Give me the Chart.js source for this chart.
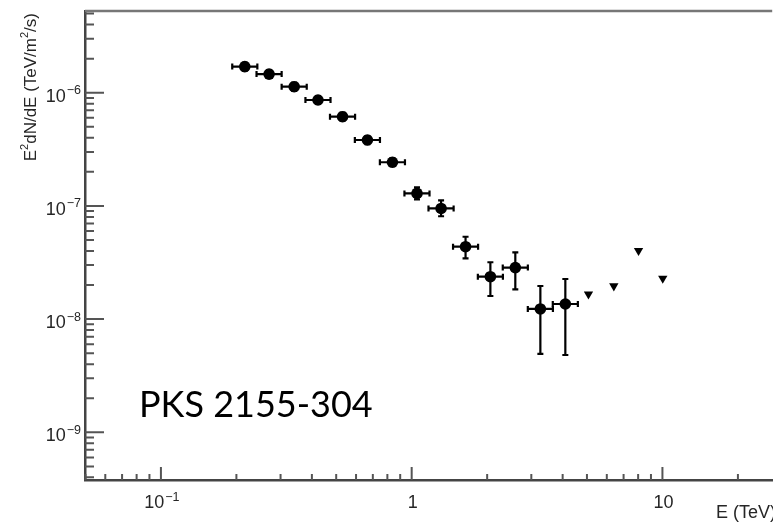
<!DOCTYPE html>
<html>
<head>
<meta charset="utf-8">
<script src="https://cdn.jsdelivr.net/npm/chart.js@4.4.0/dist/chart.umd.min.js"></script>
<style>
  html, body { margin: 0; padding: 0; background: #fff; overflow: hidden; }
  /* a little wider than the window: the x axis runs off the right edge, as in the figure */
  #wrap { width: 778px; height: 522px; }
</style>
</head>
<body>
<div id="wrap"><canvas id="sedChart"></canvas></div>
<script>
// Spectral points (E in TeV, E^2 dN/dE in TeV/m^2/s)
const energy   = [0.216, 0.270, 0.340, 0.423, 0.530, 0.666, 0.838, 1.05, 1.31, 1.64, 2.06, 2.59, 3.26, 4.10];
const flux     = [1.70e-6, 1.46e-6, 1.13e-6, 8.62e-7, 6.14e-7, 3.82e-7, 2.43e-7, 1.29e-7, 9.5e-8, 4.36e-8, 2.37e-8, 2.85e-8, 1.23e-8, 1.36e-8];
// bin edges
const energyLow  = [0.1925, 0.2406, 0.3030, 0.3770, 0.4723, 0.5935, 0.7468, 0.9357, 1.167, 1.462, 1.836, 2.308, 2.905, 3.654];
const energyHigh = [0.2424, 0.3030, 0.3815, 0.4746, 0.5947, 0.7473, 0.9402, 1.178, 1.470, 1.840, 2.311, 2.906, 3.658, 4.600];
// flux error range
const fluxLow  = [1.57e-6, 1.35e-6, 1.04e-6, 7.95e-7, 5.66e-7, 3.52e-7, 2.24e-7, 1.14e-7, 8.1e-8, 3.44e-8, 1.60e-8, 1.83e-8, 4.92e-9, 4.82e-9];
const fluxHigh = [1.84e-6, 1.58e-6, 1.23e-6, 9.35e-7, 6.66e-7, 4.14e-7, 2.64e-7, 1.46e-7, 1.12e-7, 5.34e-8, 3.18e-8, 3.89e-8, 1.96e-8, 2.26e-8];

// upper limits
const ulEnergy = [5.07, 6.40, 8.03, 10.03];
const ulFlux   = [1.66e-8, 1.96e-8, 4.02e-8, 2.29e-8];

// axis ticks
const xMajor = [0.1, 1, 10];
const xMajorBase = ['10', '1', '10'];
const xMajorExp  = ['\u22121', '', ''];
const yMajor = [1e-9, 1e-8, 1e-7, 1e-6];
const yMajorExp = ['\u22129', '\u22128', '\u22127', '\u22126'];
const minorSteps = [2, 3, 4, 5, 6, 7, 8, 9];

const FONT = '"Liberation Sans", Arial, Helvetica, sans-serif';
const TXT = '#262626';

function drawPow(ctx, base, exp, x, y, align) {
    ctx.font = '18px ' + FONT;
    const wb = ctx.measureText(base).width;
    ctx.font = '12.5px ' + FONT;
    const we = exp ? ctx.measureText(exp).width + 1 : 0;
    const total = wb + we;
    let left = x;
    if (align === 'right') left = x - total;
    if (align === 'center') left = x - total / 2;
    ctx.textAlign = 'left';
    ctx.textBaseline = 'alphabetic';
    ctx.font = '18px ' + FONT;
    ctx.fillText(base, left, y);
    if (exp) {
        ctx.font = '12.5px ' + FONT;
        ctx.fillText(exp, left + wb + 1, y - 7.5);
    }
}

// error bars under the markers
const errorBars = {
    id: 'errorBars',
    beforeDatasetsDraw(chart) {
        const ctx = chart.ctx;
        const x = chart.scales.x, y = chart.scales.y;
        ctx.save();
        ctx.strokeStyle = '#000';
        ctx.lineWidth = 2.2;
        for (let i = 0; i < energy.length; i++) {
            const px = x.getPixelForValue(energy[i]);
            const py = y.getPixelForValue(flux[i]);
            const x0 = x.getPixelForValue(energyLow[i]);
            const x1 = x.getPixelForValue(energyHigh[i]);
            const y0 = y.getPixelForValue(fluxLow[i]);
            const y1 = y.getPixelForValue(fluxHigh[i]);
            ctx.beginPath();
            ctx.moveTo(x0, py); ctx.lineTo(x1, py);
            ctx.moveTo(px, y0); ctx.lineTo(px, y1);
            ctx.moveTo(x0, py - 3); ctx.lineTo(x0, py + 3);
            ctx.moveTo(x1, py - 3); ctx.lineTo(x1, py + 3);
            ctx.moveTo(px - 3, y0); ctx.lineTo(px + 3, y0);
            ctx.moveTo(px - 3, y1); ctx.lineTo(px + 3, y1);
            ctx.stroke();
        }
        ctx.restore();
    }
};

// ROOT style frame: inward ticks, labels with exponents, titles
const rootFrame = {
    id: 'rootFrame',
    afterDraw(chart) {
        const ctx = chart.ctx;
        const x = chart.scales.x, y = chart.scales.y;
        const a = chart.chartArea;
        ctx.save();

        // top frame line
        ctx.strokeStyle = '#777';
        ctx.lineWidth = 2.5;
        ctx.beginPath();
        ctx.moveTo(a.left, a.top); ctx.lineTo(a.right, a.top);
        ctx.stroke();

        ctx.strokeStyle = '#555';
        ctx.lineWidth = 2;
        ctx.beginPath();
        // x ticks
        for (let d = -2; d <= 2; d++) {
            const dec = Math.pow(10, d);
            if (dec >= x.min && dec <= x.max) {
                const px = x.getPixelForValue(dec);
                ctx.moveTo(px, a.bottom); ctx.lineTo(px, a.bottom - 13);
            }
            minorSteps.forEach(m => {
                const v = m * dec;
                if (v > x.min && v < x.max) {
                    const px = x.getPixelForValue(v);
                    ctx.moveTo(px, a.bottom); ctx.lineTo(px, a.bottom - 6);
                }
            });
        }
        // y ticks
        for (let d = -11; d <= -4; d++) {
            const dec = Math.pow(10, d);
            if (dec >= y.min && dec <= y.max) {
                const py = y.getPixelForValue(dec);
                ctx.moveTo(a.left, py); ctx.lineTo(a.left + 19, py);
            }
            minorSteps.forEach(m => {
                const v = m * dec;
                if (v > y.min && v < y.max) {
                    const py = y.getPixelForValue(v);
                    ctx.moveTo(a.left, py); ctx.lineTo(a.left + 9, py);
                }
            });
        }
        ctx.stroke();

        // tick labels
        ctx.fillStyle = TXT;
        xMajor.forEach((v, i) => {
            drawPow(ctx, xMajorBase[i], xMajorExp[i], x.getPixelForValue(v) + 1, a.bottom + 28, 'center');
        });
        yMajor.forEach((v, i) => {
            drawPow(ctx, '10', yMajorExp[i], a.left - 4, y.getPixelForValue(v) + 9, 'right');
        });

        // x title
        ctx.font = '18px ' + FONT;
        ctx.textAlign = 'left';
        ctx.fillText('E (TeV)', 716, a.bottom + 38);

        // y title, rotated, aligned to top of axis
        ctx.save();
        ctx.translate(36, 13);
        ctx.rotate(-Math.PI / 2);
        const parts = [['E', 0], ['2', 1], ['dN/dE (TeV/m', 0], ['2', 1], ['/s)', 0]];
        let widths = parts.map(p => {
            ctx.font = (p[1] ? '11px ' : '17px ') + FONT;
            return ctx.measureText(p[0]).width;
        });
        let total = widths.reduce((s, w) => s + w, 0);
        let cx = -total;
        parts.forEach((p, i) => {
            ctx.font = (p[1] ? '11px ' : '17px ') + FONT;
            ctx.fillText(p[0], cx, p[1] ? -8 : 0);
            cx += widths[i];
        });
        ctx.restore();

        // source name
        ctx.fillStyle = '#000';
        ctx.font = '36px Lato, "Open Sans", sans-serif';
        ctx.textAlign = 'left';
        ctx.fillText('PKS 2155-304', 139, 417);

        ctx.restore();
    }
};

const ctxChart = document.getElementById('sedChart').getContext('2d');
const sedChart = new Chart(ctxChart, {
    type: 'scatter',
    data: {
        datasets: [
            {
                label: 'PKS 2155-304',
                data: energy.map((e, i) => ({ x: e, y: flux[i] })),
                pointStyle: 'circle',
                pointRadius: 5.8,
                backgroundColor: '#000',
                borderColor: '#000',
                borderWidth: 0
            },
            {
                label: 'upper limits',
                data: ulEnergy.map((e, i) => ({ x: e, y: ulFlux[i] })),
                pointStyle: 'triangle',
                rotation: 180,
                pointRadius: 5.4,
                backgroundColor: '#000',
                borderColor: '#000',
                borderWidth: 0
            }
        ]
    },
    options: {
        responsive: true,
        maintainAspectRatio: false,
        animation: false,
        layout: { padding: { left: 85, top: 11, right: 0, bottom: 42 } },
        plugins: {
            legend: { display: false },
            tooltip: { enabled: false }
        },
        scales: {
            x: {
                type: 'logarithmic',
                min: 0.0498,
                max: 27.4,
                bounds: 'data',
                ticks: { display: false },
                grid: { display: false, drawTicks: false },
                border: { display: true, color: '#444', width: 2.5 }
            },
            y: {
                type: 'logarithmic',
                min: 3.79e-10,
                max: 5.27e-6,
                bounds: 'data',
                ticks: { display: false },
                grid: { display: false, drawTicks: false },
                border: { display: true, color: '#444', width: 2.5 }
            }
        }
    },
    plugins: [errorBars, rootFrame]
});
</script>
</body>
</html>
